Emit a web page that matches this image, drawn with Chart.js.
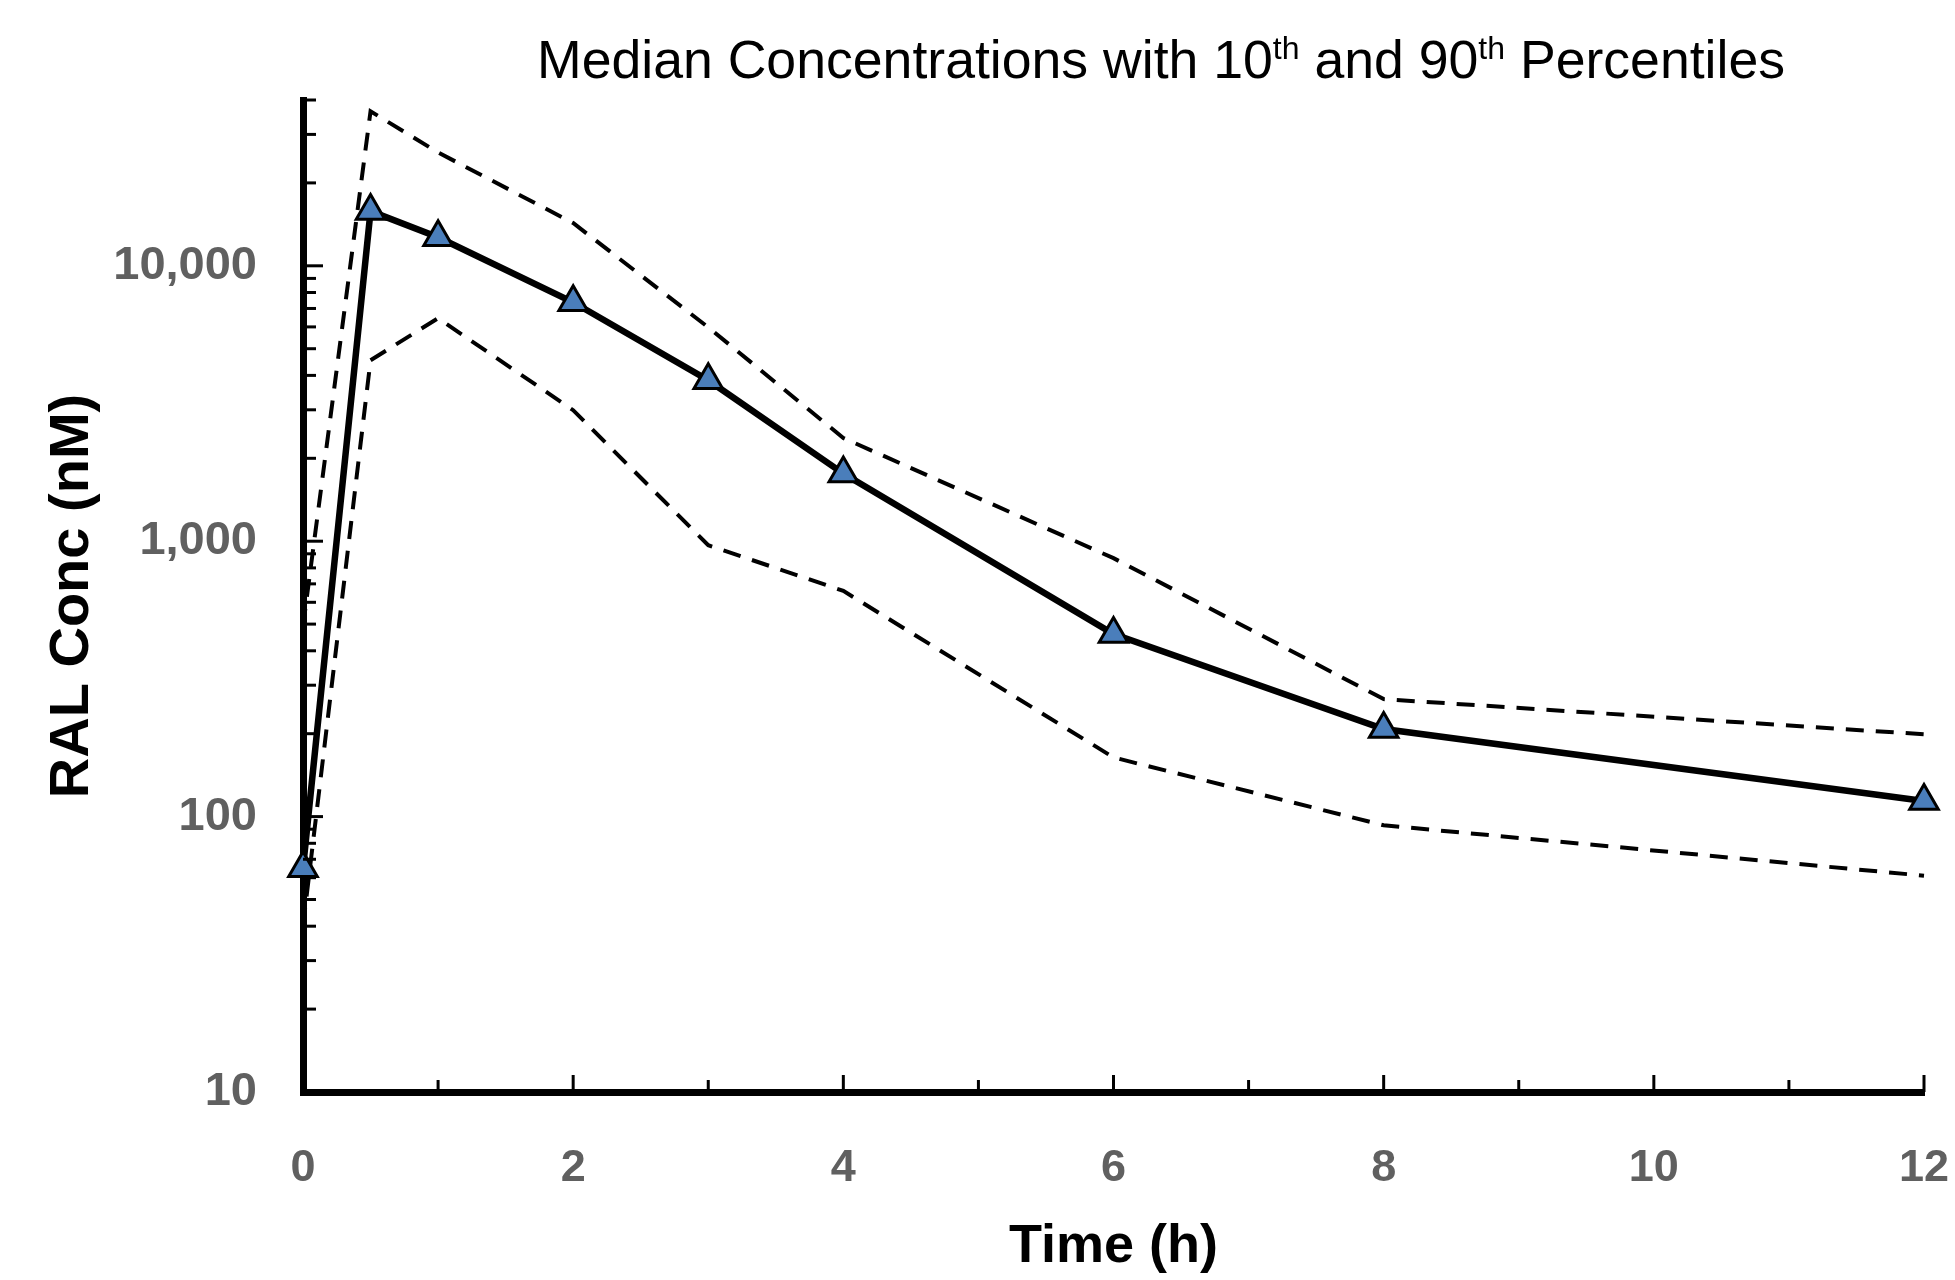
<!DOCTYPE html>
<html>
<head>
<meta charset="utf-8">
<title>Median Concentrations with 10th and 90th Percentiles</title>
<script src="https://cdn.jsdelivr.net/npm/chart.js@4.4.1/dist/chart.umd.min.js"></script>
<style>
  html, body { margin: 0; padding: 0; background: #fff; }
</style>
</head>
<body>
<canvas id="pkChart" width="1955" height="1280"></canvas>
<script>
// time points (h) and concentrations (nM)
const timeHours = [0, 0.5, 1, 2, 3, 4, 6, 8, 12];
const medianConc = [65, 15800, 12700, 7370, 3840, 1760, 460, 208, 114];
const p90Conc = [490, 36400, 25800, 14300, 5980, 2370, 868, 267, 199];
const p10Conc = [40, 4540, 6450, 2990, 967, 660, 164, 93, 61];

const yTickValues = [10, 100, 1000, 10000];
const xTickValues = [0, 2, 4, 6, 8, 10, 12];

const toPoints = (vals) => vals.map((v, i) => ({ x: timeHours[i], y: v }));

// little inward tick marks like the original (Chart.js only does outward ones)
const innerTicks = {
  id: 'innerTicks',
  afterDatasetsDraw(chart) {
    const { ctx, chartArea, scales: { x, y } } = chart;
    ctx.save();
    ctx.strokeStyle = '#000';
    ctx.lineWidth = 3;
    for (let dec = 10; dec <= 10000; dec *= 10) {
      for (let m = 1; m <= 9; m++) {
        const v = dec * m;
        if (v > y.max) break;
        const py = y.getPixelForValue(v);
        const len = m === 1 ? 20 : 13;
        ctx.beginPath();
        ctx.moveTo(chartArea.left, py);
        ctx.lineTo(chartArea.left + len, py);
        ctx.stroke();
      }
    }
    for (let h = 1; h <= x.max; h++) {
      const px = x.getPixelForValue(h);
      const len = h % 2 === 0 ? 17 : 12;
      ctx.beginPath();
      ctx.moveTo(px, chartArea.bottom);
      ctx.lineTo(px, chartArea.bottom - len);
      ctx.stroke();
    }
    ctx.restore();
  }
};

// title with superscript "th"
const supTitle = {
  id: 'supTitle',
  afterDraw(chart) {
    const ctx = chart.ctx;
    const parts = [
      ['Median Concentrations with 10', false],
      ['th', true],
      [' and 90', false],
      ['th', true],
      [' Percentiles', false]
    ];
    ctx.save();
    ctx.fillStyle = '#000';
    ctx.textBaseline = 'alphabetic';
    let px = 537;
    const base = 78;
    for (const [txt, sup] of parts) {
      ctx.font = sup ? '32px "Liberation Sans", Arial, sans-serif' : '53.6px "Liberation Sans", Arial, sans-serif';
      ctx.fillText(txt, px, sup ? base - 19 : base);
      px += ctx.measureText(txt).width;
    }
    ctx.restore();
  }
};

new Chart(document.getElementById('pkChart'), {
  type: 'line',
  data: {
    datasets: [
      {
        label: 'Median',
        data: toPoints(medianConc),
        borderColor: '#000',
        borderWidth: 6.5,
        pointStyle: 'triangle',
        pointRadius: 16.5,
        pointBackgroundColor: '#4a7ebb',
        pointBorderColor: '#000',
        pointBorderWidth: 3,
        clip: false
      },
      {
        label: '90th percentile',
        data: toPoints(p90Conc),
        borderColor: '#000',
        borderWidth: 4,
        borderDash: [18, 12],
        pointRadius: 0,
        clip: false
      },
      {
        label: '10th percentile',
        data: toPoints(p10Conc),
        borderColor: '#000',
        borderWidth: 4,
        borderDash: [18, 12],
        pointRadius: 0,
        clip: false
      }
    ]
  },
  options: {
    responsive: false,
    animation: false,
    layout: { padding: { top: 100, right: 31, bottom: 0, left: 0 } },
    plugins: {
      legend: { display: false },
      tooltip: { enabled: false }
    },
    scales: {
      x: {
        type: 'linear',
        min: 0,
        max: 12,
        afterBuildTicks: (axis) => { axis.ticks = xTickValues.map(v => ({ value: v })); },
        afterFit: (axis) => {
          axis.height = 188;
          axis.paddingLeft = 0;
          axis.paddingRight = 0;
        },
        grid: { display: false, drawTicks: false },
        border: { display: true, color: '#000', width: 7 },
        ticks: {
          padding: 50,
          color: '#606060',
          font: { family: 'Liberation Sans Narrow, Liberation Sans, Arial', size: 45, weight: 'bold' }
        },
        title: {
          display: true,
          text: 'Time (h)',
          color: '#000',
          padding: { top: 0, bottom: 0 },
          font: { family: 'Liberation Sans Narrow, Liberation Sans, Arial', size: 54, weight: 'bold' }
        }
      },
      y: {
        type: 'logarithmic',
        min: 10,
        max: 40000,
        afterBuildTicks: (axis) => { axis.ticks = yTickValues.map(v => ({ value: v })); },
        afterFit: (axis) => { axis.width = 303; },
        grid: { display: false, drawTicks: false },
        border: { display: true, color: '#000', width: 7 },
        ticks: {
          padding: 46,
          color: '#606060',
          font: { family: 'Liberation Sans, Arial', size: 47, weight: 'bold' },
          callback: (v) => Number(v).toLocaleString('en-US')
        },
        title: {
          display: true,
          text: 'RAL Conc (nM)',
          color: '#000',
          padding: { top: 39, bottom: 0 },
          font: { family: 'Liberation Sans, Arial', size: 56, weight: 'bold' }
        }
      }
    }
  },
  plugins: [innerTicks, supTitle]
});
</script>
</body>
</html>
